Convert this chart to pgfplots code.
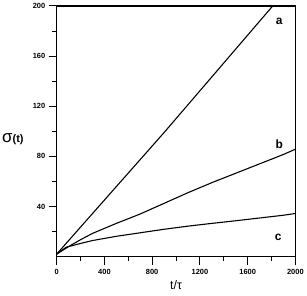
\documentclass[border=0pt]{standalone}
\usepackage{fontspec}
\setmainfont{Liberation Sans}
\usepackage{pgfplots}
\pgfplotsset{compat=1.18}
\usetikzlibrary{calc}
\begin{document}
\begin{tikzpicture}
\begin{axis}[name=ax, scale only axis, width=240pt, height=252pt,
  xmin=0, xmax=2000, ymin=0, ymax=200,
  xtick={0,400,...,2000}, minor xtick={200,600,...,1800},
  ytick={40,80,...,200}, minor ytick={20,60,...,180},
  tick pos=left, tick align=outside,
  major tick length=8pt, minor tick length=4.5pt,
  axis line style={line width=1.2pt},
  every tick/.style={line width=1pt, black},
  ticklabel style={font=\bfseries\fontsize{7.5}{8}\selectfont},
  /pgf/number format/assume math mode=true,
  /pgf/number format/1000 sep={},
  xticklabel style={yshift=-1pt},
  clip=true]
\addplot[black, line width=1.1pt] coordinates {(0,2) (900,99) (1810,200) (1840,203.5)};
\addplot[black, line width=1.1pt] coordinates {(0,2) (100,8) (200,13.5) (300,18.5) (400,22.5) (500,26.5) (700,34) (900,42.5) (1100,51) (1300,59) (1500,66.5) (1700,74) (1900,81.5) (2000,85.7)};
\addplot[black, line width=1.1pt] coordinates {(0,2) (80,7.5) (200,10.5) (300,12.8) (400,14.5) (500,16.2) (700,19) (900,21.8) (1100,24.3) (1300,26.5) (1500,28.6) (1700,30.8) (1900,33) (2000,34.4)};
\node[font=\bfseries\fontsize{12}{12}\selectfont] at (axis cs:1865,188) {a};
\node[font=\bfseries\fontsize{12}{12}\selectfont] at (axis cs:1865,90) {b};
\node[font=\bfseries\fontsize{12}{12}\selectfont] at (axis cs:1855,15) {c};
\end{axis}
\node[anchor=west, inner sep=0pt] at ($(ax.south west)+(-55pt,118pt)$) {{\fontsize{17}{17}\selectfont σ}{\bfseries\fontsize{11}{11}\selectfont(t)}};
\node[inner sep=0pt] at ($(ax.south west)+(120pt,-29pt)$) {\fontsize{12.5}{12.5}\selectfont t/τ};
\path[use as bounding box] ($(ax.south west)+(-57pt,-39pt)$) rectangle ($(ax.north east)+(10pt,5pt)$);
\end{tikzpicture}
\end{document}
